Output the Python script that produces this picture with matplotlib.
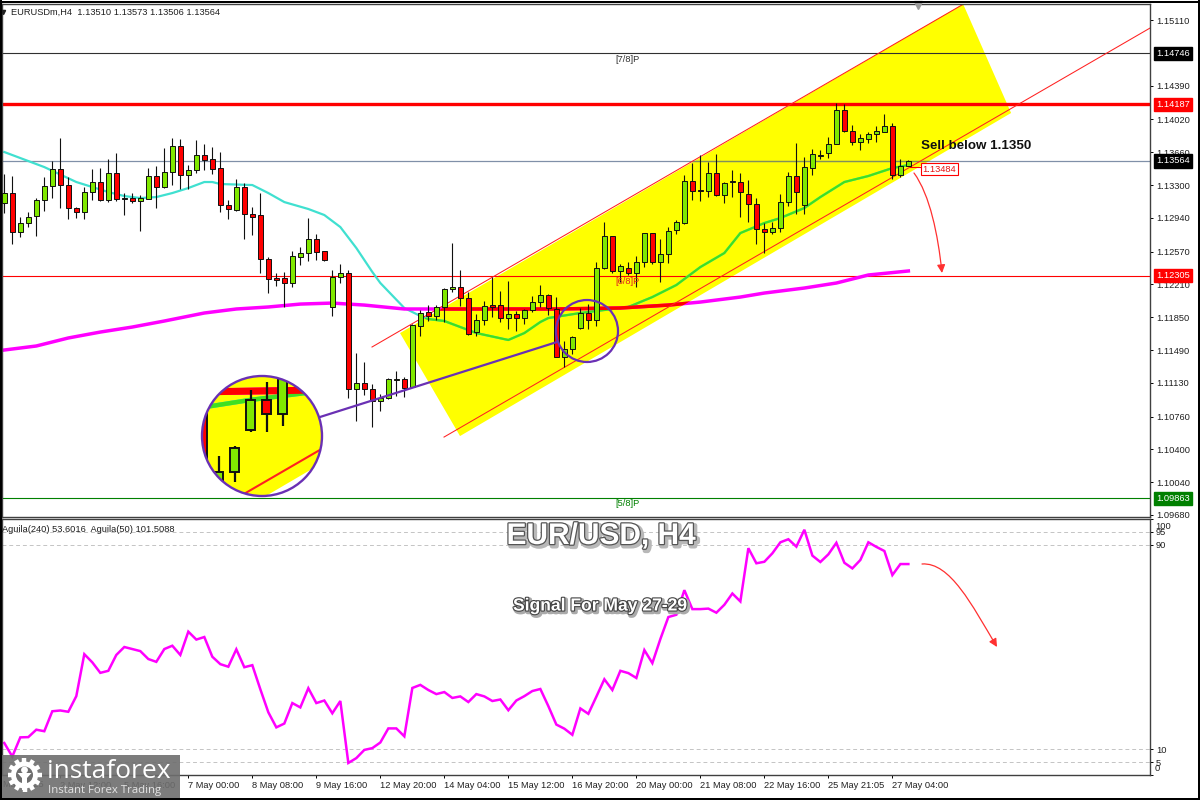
"""
EUR/USD H4 signal chart, redrawn from the screenshot.
"""

from __future__ import annotations

import matplotlib as mpl
import matplotlib.pyplot as plt
import matplotlib.patheffects as pe
import numpy as np
from matplotlib.patches import Circle, Ellipse, FancyArrowPatch, Polygon, Rectangle
from matplotlib.path import Path


OPENS = [
    1.13102, 1.13212, 1.12784, 1.12883, 1.12960, 1.13135, 1.13289, 1.13475, 1.13300, 1.13048,
    1.13004, 1.13223, 1.13333, 1.13135, 1.13432, 1.13157, 1.13157, 1.13124, 1.13146, 1.13399,
    1.13278, 1.13443, 1.13728, 1.13410, 1.13465, 1.13629, 1.13585, 1.13486, 1.13080, 1.13026,
    1.13278, 1.12982, 1.12971, 1.12488, 1.12280, 1.12280, 1.12225, 1.12510, 1.12554, 1.12708,
    1.12576, 1.11962, 1.12291, 1.12335, 1.11062, 1.11128, 1.11062, 1.10930, 1.10963, 1.11161,
    1.11172, 1.11084, 1.11753, 1.11907, 1.11863, 1.11962, 1.12159, 1.12181, 1.12060, 1.11687,
    1.11819, 1.11983, 1.11983, 1.11841, 1.11885, 1.11841, 1.11929, 1.12016, 1.12093, 1.11940,
    1.11413, 1.11501, 1.11731, 1.11896, 1.11819, 1.12389, 1.12740, 1.12357, 1.12389, 1.12335,
    1.12455, 1.12773, 1.12455, 1.12543, 1.12806, 1.12883, 1.13344, 1.13245, 1.13234, 1.13432,
    1.13190, 1.13333, 1.13333, 1.13201, 1.13091, 1.12817, 1.12784, 1.12828, 1.13113, 1.13399,
    1.13080, 1.13486, 1.13618, 1.13651, 1.13750, 1.14123, 1.13892, 1.13772, 1.13805, 1.13859,
    1.13881, 1.13947, 1.13410, 1.13510,
]
HIGHS = [
    1.13421, 1.13399, 1.12949, 1.13004, 1.13157, 1.13388, 1.13563, 1.13816, 1.13388, 1.13059,
    1.13278, 1.13475, 1.13486, 1.13585, 1.13651, 1.13212, 1.13212, 1.13190, 1.13486, 1.13508,
    1.13706, 1.13816, 1.13805, 1.13519, 1.13794, 1.13750, 1.13717, 1.13662, 1.13135, 1.13366,
    1.13322, 1.13059, 1.13212, 1.12510, 1.12335, 1.12346, 1.12576, 1.12620, 1.12938, 1.12762,
    1.12576, 1.12368, 1.12433, 1.12368, 1.11457, 1.11358, 1.11117, 1.11007, 1.11183, 1.11259,
    1.11194, 1.11775, 1.11929, 1.11983, 1.11983, 1.12170, 1.12664, 1.12368, 1.12126, 1.11885,
    1.12027, 1.12291, 1.12137, 1.12247, 1.11918, 1.11940, 1.12082, 1.12203, 1.12104, 1.12071,
    1.11588, 1.11643, 1.11951, 1.11994, 1.12455, 1.12894, 1.12740, 1.12433, 1.12455, 1.12521,
    1.12773, 1.12773, 1.12708, 1.12839, 1.12916, 1.13410, 1.13541, 1.13629, 1.13552, 1.13640,
    1.13333, 1.13465, 1.13432, 1.13355, 1.13157, 1.12883, 1.12894, 1.13201, 1.13443, 1.13761,
    1.13607, 1.13695, 1.13684, 1.13826, 1.14199, 1.14188, 1.13958, 1.13859, 1.13881, 1.13947,
    1.14079, 1.13980, 1.13585, 1.13573,
]
LOWS = [
    1.12993, 1.12653, 1.12729, 1.12839, 1.12740, 1.13015, 1.13157, 1.13048, 1.12927, 1.12938,
    1.12927, 1.13135, 1.13124, 1.13113, 1.13124, 1.12971, 1.13102, 1.12795, 1.13146, 1.13048,
    1.13267, 1.13300, 1.13256, 1.13256, 1.13432, 1.13465, 1.13421, 1.13004, 1.12927, 1.13015,
    1.12708, 1.12751, 1.12335, 1.12115, 1.12192, 1.11962, 1.12181, 1.12422, 1.12466, 1.12477,
    1.12466, 1.11863, 1.12225, 1.10963, 1.10711, 1.10996, 1.10645, 1.10821, 1.10952, 1.10985,
    1.10974, 1.11084, 1.11643, 1.11808, 1.11819, 1.11797, 1.12126, 1.11972, 1.11654, 1.11643,
    1.11764, 1.11852, 1.11797, 1.11720, 1.11698, 1.11775, 1.11907, 1.11962, 1.11874, 1.11413,
    1.11303, 1.11446, 1.11720, 1.11720, 1.11753, 1.12378, 1.12335, 1.12236, 1.12313, 1.12181,
    1.12400, 1.12433, 1.12236, 1.12444, 1.12762, 1.12872, 1.13135, 1.13124, 1.13168, 1.13179,
    1.13102, 1.13168, 1.12949, 1.12894, 1.12653, 1.12554, 1.12762, 1.12784, 1.13069, 1.12982,
    1.12982, 1.13410, 1.13585, 1.13596, 1.13750, 1.13881, 1.13739, 1.13684, 1.13761, 1.13772,
    1.13881, 1.13366, 1.13388, 1.13506,
]
CLOSES = [
    1.13212, 1.12784, 1.12883, 1.12949, 1.13135, 1.13289, 1.13475, 1.13300, 1.13048, 1.13004,
    1.13223, 1.13333, 1.13135, 1.13432, 1.13146, 1.13146, 1.13124, 1.13157, 1.13399, 1.13278,
    1.13443, 1.13728, 1.13410, 1.13465, 1.13629, 1.13574, 1.13475, 1.13080, 1.13037, 1.13278,
    1.12982, 1.12949, 1.12488, 1.12269, 1.12258, 1.12225, 1.12521, 1.12554, 1.12708, 1.12565,
    1.12477, 1.12291, 1.12335, 1.11062, 1.11128, 1.11062, 1.10930, 1.10963, 1.11172, 1.11172,
    1.11073, 1.11764, 1.11896, 1.11863, 1.11962, 1.12159, 1.12181, 1.12060, 1.11665, 1.11819,
    1.11972, 1.11962, 1.11841, 1.11885, 1.11841, 1.11929, 1.12016, 1.12093, 1.11951, 1.11413,
    1.11501, 1.11632, 1.11896, 1.11819, 1.12389, 1.12740, 1.12357, 1.12411, 1.12335, 1.12455,
    1.12773, 1.12455, 1.12543, 1.12795, 1.12894, 1.13344, 1.13234, 1.13234, 1.13432, 1.13190,
    1.13322, 1.13344, 1.13223, 1.13091, 1.12817, 1.12784, 1.12828, 1.13113, 1.13399, 1.13223,
    1.13497, 1.13640, 1.13629, 1.13750, 1.14123, 1.13892, 1.13772, 1.13816, 1.13859, 1.13892,
    1.13947, 1.13410, 1.13508, 1.13564,
]

MA_FAST_BARS = [
    0, 3, 5, 9, 11, 13, 15, 17, 19, 21, 23, 25, 26, 27, 31, 33, 35, 38, 40, 42, 44, 46, 47,
    50, 52, 53, 55, 57, 59, 63, 65, 67, 68, 72, 74, 78, 81, 84, 87, 90, 92, 95, 97, 100, 102,
    105, 108, 111, 113,
]
MA_FAST_VALUES = [
    1.13662, 1.13563, 1.13497, 1.13333, 1.13278, 1.13223, 1.13179, 1.13157, 1.13168, 1.13212,
    1.13267, 1.13333, 1.13333, 1.13311, 1.13300, 1.13212, 1.13113, 1.13037, 1.12971, 1.12839,
    1.12609, 1.12346, 1.12225, 1.11951, 1.11863, 1.11830, 1.11808, 1.11742, 1.11676, 1.11600,
    1.11676, 1.11797, 1.11841, 1.11896, 1.11918, 1.11962, 1.12071, 1.12203, 1.12400, 1.12554,
    1.12773, 1.12883, 1.12938, 1.13048, 1.13168, 1.13333, 1.13399, 1.13486, 1.13519,
]
MA_SLOW_BARS = [0, 4, 8, 12, 16, 20, 25, 29, 33, 37, 41, 45, 50, 55, 69, 77, 83, 87, 92, 95, 100, 104, 108, 113]
MA_SLOW_VALUES = [
    1.11490, 1.11534, 1.11622, 1.11687, 1.11742, 1.11808, 1.11896, 1.11940, 1.11962, 1.11994,
    1.12005, 1.11983, 1.11940, 1.11940, 1.11940, 1.11951, 1.11983, 1.12016, 1.12071, 1.12115,
    1.12170, 1.12225, 1.12313, 1.12357,
]

AGUILA = [
    12.5, 7.2, 14.7, 14.8, 17.7, 17.1, 24.9, 25.2, 24.7, 30.8,
    47.2, 44.0, 39.9, 40.7, 46.9, 50.0, 49.2, 48.4, 45.3, 44.2,
    49.2, 50.5, 46.9, 56.0, 52.9, 53.9, 46.2, 43.3, 42.3, 49.1,
    42.1, 42.9, 33.5, 24.5, 18.6, 20.1, 28.1, 26.4, 33.9, 28.1,
    29.1, 24.1, 28.9, 4.7, 6.6, 9.8, 10.5, 12.7, 18.2, 18.2,
    15.1, 34.0, 35.2, 33.2, 31.6, 32.4, 30.1, 30.7, 28.5, 31.6,
    30.7, 28.9, 29.5, 25.3, 29.1, 30.8, 32.8, 33.6, 26.9, 19.7,
    18.1, 15.7, 26.0, 23.9, 30.6, 37.4, 33.2, 40.7, 39.8, 37.9,
    48.8, 43.7, 53.1, 61.7, 62.6, 72.2, 64.8, 64.8, 65.0, 63.4,
    66.5, 70.9, 67.8, 88.6, 82.7, 83.3, 86.6, 90.9, 92.1, 89.2,
    95.8, 85.7, 83.2, 86.2, 90.7, 82.9, 80.7, 84.0, 90.9, 89.1,
    87.5, 78.1, 82.4, 82.4,
]

CHANNEL_BARS = [49.46, 56.96, 125.84, 119.84]
CHANNEL_PRICES = [1.11676, 1.10546, 1.14090, 1.15286]
UPPER_LINE_BARS = [45.96, 120.1]
UPPER_LINE_PRICES = [1.11523, 1.15296]
LOWER_LINE_BARS = [54.96, 143.2]
LOWER_LINE_PRICES = [1.10535, 1.15022]

PRICE_TICKS = [
    1.1511, 1.1439, 1.1402, 1.1366, 1.1330, 1.1294, 1.1257, 1.1221,
    1.1185, 1.1149, 1.1113, 1.1076, 1.1040, 1.1004, 1.0968,
]
DATE_BARS = [7, 15, 23, 31, 39, 47, 55, 63, 71, 79, 87, 95, 103, 111]
DATE_LABELS = [
    '2 May 12:00', '5 May 16:00', '7 May 00:00', '8 May 08:00', '9 May 16:00',
    '12 May 20:00', '14 May 04:00', '15 May 12:00', '16 May 20:00', '20 May 00:00',
    '21 May 08:00', '22 May 16:00', '25 May 21:05', '27 May 04:00',
]
LEVELS = [1.14746, 1.14187, 1.13564, 1.12305, 1.09863]
LEVEL_TAGS = ['#000000', '#ff0000', '#000000', '#ff0000', '#008000']

# pixel frame of the panes in the 1200x800 picture
X_LIMITS = (-0.2875, 143.2)
PRICE_LIMITS = (1.09658, 1.15286)

GREEN = '#80e800'
RED = '#ff0000'
YELLOW = '#ffff00'
PURPLE = '#6a30b4'
FONT = 'Liberation Sans'
SMALL = 6.7

mpl.rcParams['font.family'] = FONT


def draw_scene(ax: plt.Axes, scale: float = 1.0) -> None:
    bars = np.arange(len(OPENS))
    opens = np.array(OPENS)
    closes = np.array(CLOSES)

    channel = Polygon(
        np.column_stack([CHANNEL_BARS, CHANNEL_PRICES]),
        closed=True, facecolor=YELLOW, edgecolor='none', zorder=1,
    )
    ax.add_patch(channel)

    ax.axhline(LEVELS[0], color='#303030', lw=0.8, zorder=1.5)
    ax.axhline(LEVELS[1], color=RED, lw=2.4, zorder=1.5)
    ax.axhline(LEVELS[2], color='#8090a8', lw=0.9, zorder=1.5)
    olive = ax.axhline(LEVELS[2], color='#80905a', lw=0.9, zorder=1.6)
    olive.set_clip_path(channel)
    ax.axhline(LEVELS[3], color=RED, lw=0.8, zorder=1.5)
    ax.axhline(LEVELS[4], color='#008000', lw=0.8, zorder=1.5)

    ax.plot(MA_FAST_BARS, MA_FAST_VALUES, color='#40e0d0', lw=1.6 * scale, zorder=2)
    fast_in, = ax.plot(MA_FAST_BARS, MA_FAST_VALUES, color='#40e020', lw=1.6 * scale, zorder=2.1)
    fast_in.set_clip_path(channel)
    ax.plot(MA_SLOW_BARS, MA_SLOW_VALUES, color='#ff00ff', lw=2.5 * scale, zorder=2)
    slow_in, = ax.plot(MA_SLOW_BARS, MA_SLOW_VALUES, color=RED, lw=2.5 * scale, zorder=2.1)
    slow_in.set_clip_path(channel)

    ax.plot(UPPER_LINE_BARS, UPPER_LINE_PRICES, color='#ff2020', lw=0.75 * scale, zorder=2.5)
    ax.plot(LOWER_LINE_BARS, LOWER_LINE_PRICES, color='#ff2020', lw=0.75 * scale, zorder=2.5)

    ax.vlines(bars, LOWS, HIGHS, color='#101010', lw=0.8 * scale, zorder=3)
    colors = [GREEN if c >= o else RED for o, c in zip(opens, closes)]
    ax.bar(
        bars, np.abs(closes - opens), bottom=np.minimum(opens, closes), width=0.6,
        color=colors, edgecolor='#101010', linewidth=0.7 * scale, zorder=4,
    )


def style_price_pane(ax: plt.Axes) -> None:
    ax.set_xlim(*X_LIMITS)
    ax.set_ylim(*PRICE_LIMITS)
    ax.set_xticks([])
    ax.yaxis.tick_right()
    ax.set_yticks(PRICE_TICKS)
    ax.set_yticklabels([f'{tick:.5f}' for tick in PRICE_TICKS], fontsize=SMALL, color='#202020')
    ax.tick_params(axis='y', length=2.2, width=0.7, pad=2)
    for spine in ax.spines.values():
        spine.set_color('#404040')
        spine.set_linewidth(1.0)

    for level, tag in zip(LEVELS, LEVEL_TAGS):
        ax.annotate(
            f'{level:.5f}', xy=(1, level), xycoords=('axes fraction', 'data'),
            xytext=(4.5, 0), textcoords='offset points', va='center', ha='left',
            fontsize=SMALL, color='white', annotation_clip=False, zorder=8,
            bbox=dict(boxstyle='square,pad=0.22', facecolor=tag, edgecolor=tag),
        )


def draw_oscillator(ax: plt.Axes) -> None:
    ax.set_xlim(*X_LIMITS)
    ax.set_ylim(0, 100)
    ax.plot(np.arange(len(AGUILA)), AGUILA, color='#ff00ff', lw=1.8, solid_joinstyle='miter')
    for level in (95, 90, 10, 5):
        ax.axhline(level, color='#c4c4c4', lw=0.7, ls=(0, (4, 3)), zorder=0)

    ax.yaxis.tick_right()
    ax.set_yticks([100, 95, 90, 10, 5, 0])
    ax.set_yticklabels(['', '95', '90', '10', '5', ''], fontsize=SMALL, color='#202020')
    ax.tick_params(axis='y', length=2.2, width=0.7, pad=2)
    ax.set_xticks(DATE_BARS)
    ax.set_xticklabels(DATE_LABELS, fontsize=SMALL, color='#202020', ha='left')
    ax.tick_params(axis='x', length=2.2, width=0.7, pad=2)
    for spine in ax.spines.values():
        spine.set_color('#404040')
        spine.set_linewidth(1.0)

    for text, value, shift in (('100', 100, -5.5), ('0', 0, 5)):
        ax.annotate(
            text, xy=(1, value), xycoords=('axes fraction', 'data'), xytext=(3.6, shift),
            textcoords='offset points', va='center', ha='left', fontsize=SMALL,
            color='#202020', annotation_clip=False,
        )


def draw_magnifier(fig: plt.Figure) -> None:
    inset = fig.add_axes([202 / 1200, 1 - 496 / 800, 120 / 1200, 120 / 800])
    draw_scene(inset, scale=2.0)
    inset.set_xlim(68.96, 76.46)
    inset.set_ylim(1.11369, 1.12027)
    inset.axis('off')
    clip = Circle((0.5, 0.5), 0.5, transform=inset.transAxes)
    for artist in inset.get_children():
        artist.set_clip_path(clip)


def curved_arrow(ax: plt.Axes, points: list[tuple[float, float]], head: float) -> None:
    path = Path(points, [Path.MOVETO, Path.CURVE4, Path.CURVE4, Path.CURVE4])
    arrow = FancyArrowPatch(
        path=path, arrowstyle='-|>', mutation_scale=head, color='#ff3030', lw=0.9,
        transform=ax.transData, zorder=9,
    )
    ax.add_patch(arrow)


def draw_logo(ax: plt.Axes) -> None:
    ax.add_patch(Rectangle((0, 755), 180, 45, facecolor='#6e6e6e', edgecolor='none', alpha=0.9, zorder=10))
    cx, cy = 24.5, 775
    for angle in np.arange(0, 360, 30):
        dx, dy = np.cos(np.radians(angle)), np.sin(np.radians(angle))
        ax.plot([cx + 12 * dx, cx + 17 * dx], [cy + 12 * dy, cy + 17 * dy], color='white', lw=3.2, zorder=11, solid_capstyle='butt')
    ax.add_patch(Circle((cx, cy), 13.5, facecolor='white', edgecolor='none', zorder=11))
    ax.add_patch(Circle((cx, cy), 8.5, facecolor='#6e6e6e', edgecolor='none', zorder=12))
    ax.add_patch(Circle((cx, cy - 5), 3.4, facecolor='white', edgecolor='none', zorder=13))
    ax.add_patch(Polygon([(cx - 7, cy - 2), (cx + 7, cy - 2), (cx + 2.5, cy + 3), (cx + 2.5, cy + 15), (cx - 2.5, cy + 15), (cx - 2.5, cy + 3)], facecolor='white', edgecolor='none', zorder=13))
    ax.text(47, 771, 'instaforex', color='white', fontsize=19, family='Open Sans', va='center', ha='left', zorder=11)
    ax.text(48, 791, 'Instant Forex Trading', color='#e4e4e4', fontsize=8.2, family='Open Sans', va='center', ha='left', zorder=11)


def draw_overlay(fig: plt.Figure) -> None:
    ax = fig.add_axes([0, 0, 1, 1], facecolor='none')
    ax.set_xlim(0, 1200)
    ax.set_ylim(800, 0)
    ax.axis('off')

    # window frame of the terminal screenshot
    ax.add_patch(Rectangle((0, 0), 2, 800, facecolor='black', edgecolor='none', zorder=20))
    ax.add_patch(Rectangle((0, 798), 1200, 2, facecolor='black', edgecolor='none', zorder=20))
    ax.add_patch(Rectangle((1198, 0), 2, 800, facecolor='black', edgecolor='none', zorder=20))
    ax.add_patch(Rectangle((0, 1), 1200, 1.5, facecolor='black', edgecolor='none', zorder=20))

    ax.text(11, 12, 'EURUSDm,H4  1.13510 1.13573 1.13506 1.13564', fontsize=SMALL, color='#202020', va='center')
    ax.plot([3], [12], marker='v', ms=3, color='#202020')
    ax.plot([918], [5], marker='v', ms=6, color='#9a9a9a')
    ax.text(2.5, 529, 'Aguila(240) 53.6016  Aguila(50) 101.5088', fontsize=SMALL, color='#202020', va='center')
    ax.text(3, 784.5, 'May 2025', fontsize=SMALL, color='#202020', va='center')

    ax.text(627, 59, '[7/8]P', fontsize=SMALL, color='#303030', ha='center', va='center')
    ax.text(627, 282, '[6/8]P', fontsize=SMALL, color='#e02020', ha='center', va='center')
    ax.text(627, 503, '[5/8]P', fontsize=SMALL, color='#008000', ha='center', va='center')

    ax.add_patch(Ellipse((587, 331), 62, 62, facecolor='none', edgecolor=PURPLE, lw=1.6, zorder=6))
    ax.plot([320, 557], [417, 342], color=PURPLE, lw=1.6, zorder=6, solid_capstyle='round')
    ax.add_patch(Circle((262, 436), 60, facecolor='none', edgecolor=PURPLE, lw=1.7, zorder=6))

    curved_arrow(ax, [(914, 173), (930, 195), (938, 235), (942, 273)], 12)
    curved_arrow(ax, [(922, 564), (950, 562), (972, 605), (997, 647)], 12)

    ax.plot([910, 920], [167, 167], color=RED, lw=0.8, zorder=7)
    ax.text(
        939.5, 169, '1.13484', fontsize=SMALL, color='#e81010', ha='center', va='center', zorder=7,
        bbox=dict(boxstyle='square,pad=0.15', facecolor='white', edgecolor=RED, lw=0.8),
    )
    ax.text(921, 146, 'Sell below 1.1350', fontsize=9.6, weight='bold', color='#101010', va='center', zorder=7)

    ax.text(
        601, 536, 'EUR/USD, H4', fontsize=21.5, weight='bold', color='white', ha='center', va='center', zorder=9,
        path_effects=[
            pe.Stroke(linewidth=3.5, foreground='#b8b8b8', offset=(1.5, -1.5)),
            pe.Stroke(linewidth=1.8, foreground='#555555'),
            pe.Normal(),
        ],
    )
    ax.text(
        600, 606, 'Signal For May 27-29', fontsize=12.6, weight='bold', color='white', ha='center', va='center', zorder=9,
        path_effects=[
            pe.Stroke(linewidth=3.0, foreground='#aaaaaa', offset=(1.2, -1.2)),
            pe.Stroke(linewidth=1.6, foreground='#444444'),
            pe.Normal(),
        ],
    )

    draw_logo(ax)


def main() -> None:
    fig = plt.figure(figsize=(12, 8), dpi=100, facecolor='white')
    price_ax = fig.add_axes([2 / 1200, 1 - 517 / 800, 1148 / 1200, 513 / 800])
    lower_ax = fig.add_axes([2 / 1200, 1 - 775 / 800, 1148 / 1200, 256 / 800])

    draw_scene(price_ax)
    style_price_pane(price_ax)
    draw_oscillator(lower_ax)
    draw_magnifier(fig)
    draw_overlay(fig)

    fig.savefig('out.png', dpi=100)


if __name__ == '__main__':
    main()
